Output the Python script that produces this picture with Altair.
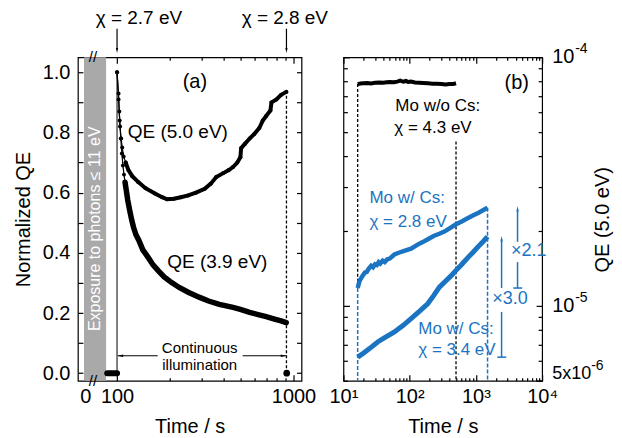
import altair as alt
import pandas as pd

FONT = "Liberation Sans"
BLUE = "#1b74c2"
GRAY = "#a9a9a9"

# ---------------- panel (a) data ----------------
t50 = [100, 102, 103, 104, 105.5, 107, 109, 112, 116, 122, 132, 145, 164, 180, 192, 210, 230, 253, 280, 314,
       340, 365, 400, 430, 454, 480, 500, 505, 530, 564, 600, 640, 670, 700, 740, 750, 800, 850, 910]
qe50 = [1.0, 0.93, 0.87, 0.82, 0.78, 0.75, 0.72, 0.70, 0.675, 0.655, 0.635, 0.615, 0.597, 0.585, 0.578, 0.58, 0.585, 0.591, 0.60, 0.613,
        0.63, 0.652, 0.665, 0.675, 0.685, 0.70, 0.718, 0.748, 0.762, 0.78, 0.795, 0.815, 0.84, 0.855, 0.873, 0.90, 0.91, 0.925, 0.935]
t39 = [100, 102, 103.5, 105, 106.5, 108, 109.5, 111, 113, 115, 118, 121, 124, 128, 133, 140, 150, 160, 171, 185,
       203, 225, 253, 294, 330, 380, 454, 500, 564, 630, 700, 780, 850, 910]
qe39 = [1.0, 0.91, 0.84, 0.78, 0.73, 0.69, 0.66, 0.635, 0.605, 0.575, 0.541, 0.51, 0.485, 0.46, 0.441, 0.41, 0.385, 0.36, 0.341, 0.32,
        0.302, 0.285, 0.269, 0.252, 0.24, 0.229, 0.219, 0.212, 0.202, 0.195, 0.188, 0.18, 0.174, 0.168]
t_dark = [88, 90, 92, 94, 96, 98, 100]
qe_dark = [0.0, 0.0, 0.0, 0.0, 0.0, 0.0, 0.0]
t_after = [915]
qe_after = [0.0]

a_xmajor = [66, 100, 1000]
a_xminor = [200, 300, 400, 500, 600, 700, 800, 900]
a_yticks = [0.0, 0.1, 0.2, 0.3, 0.4, 0.5, 0.6, 0.7, 0.8, 0.9, 1.0]

# ---------------- panel (b) data ----------------
tb_nocs = [16.4, 18, 20, 23, 26, 30, 35, 40, 45, 50, 58, 65, 72, 80, 88, 95, 105, 120, 140, 160, 190, 220, 260, 300, 350, 400, 450, 501]
qe_nocs = [7.80e-5, 7.84e-5, 7.86e-5, 7.88e-5, 7.85e-5, 7.90e-5, 7.92e-5, 7.90e-5, 7.94e-5, 7.96e-5, 7.93e-5, 7.98e-5, 8.05e-5, 7.97e-5,
           8.03e-5, 7.95e-5, 7.98e-5, 7.92e-5, 7.90e-5, 7.88e-5, 7.86e-5, 7.83e-5, 7.82e-5, 7.80e-5, 7.78e-5, 7.80e-5, 7.80e-5, 7.86e-5]
tb_28 = [16.4, 17.5, 19.4, 21, 22.5, 24, 26.2, 28, 30, 32, 34, 36, 39, 42, 46, 50, 58.8, 70, 85, 105, 130, 160, 185, 230, 280, 334,
         400, 501, 600, 750, 900, 1100, 1300, 1500]
qe_28 = [1.18e-5, 1.26e-5, 1.32e-5, 1.36e-5, 1.37e-5, 1.41e-5, 1.45e-5, 1.43e-5, 1.47e-5, 1.46e-5, 1.50e-5, 1.48e-5, 1.52e-5, 1.50e-5,
         1.54e-5, 1.55e-5, 1.61e-5, 1.64e-5, 1.67e-5, 1.70e-5, 1.76e-5, 1.81e-5, 1.85e-5, 1.91e-5, 1.95e-5, 1.99e-5,
         2.05e-5, 2.13e-5, 2.18e-5, 2.25e-5, 2.31e-5, 2.37e-5, 2.43e-5, 2.48e-5]
tb_34 = [16.4, 20, 25, 32.9, 42, 58.8, 80, 105, 140, 187, 230, 281, 350, 420, 501, 600, 750, 900, 1100, 1300, 1500]
qe_34 = [6.22e-6, 6.45e-6, 6.75e-6, 7.16e-6, 7.45e-6, 7.86e-6, 8.35e-6, 8.89e-6, 9.5e-6, 1.02e-5, 1.10e-5, 1.19e-5, 1.26e-5, 1.32e-5,
         1.39e-5, 1.46e-5, 1.56e-5, 1.64e-5, 1.74e-5, 1.82e-5, 1.90e-5]

b_xmajor = [10, 100, 1000, 10000]
b_xminor = [20, 30, 40, 50, 60, 70, 80, 90, 200, 300, 400, 500, 600, 700, 800, 900, 2000, 3000, 4000, 5000, 6000, 7000, 8000, 9000]
b_ymajor = [1e-5, 1e-4]
b_yminor = [5e-6, 6e-6, 7e-6, 8e-6, 9e-6, 2e-5, 3e-5, 4e-5, 5e-5, 6e-5, 7e-5, 8e-5, 9e-5]
# right-hand tick labels of panel (b): base text, superscript, and where they sit
b_ylab_base = ["10", "10", "5x10"]
b_ylab_sup = ["-4", "-5", "-6"]
b_ylab_qe = [1e-4, 1e-5, 5.3e-6]
b_ylab_tbase = [14190, 14190, 14190]
b_ylab_tsup = [31550, 31550, 55080]
b_ylab_fs = [20, 20, 18]

# ---------------- scales ----------------
xs_a = alt.Scale(type="log", domain=[60, 1110], nice=False)
ys_a = alt.Scale(domain=[-0.025, 1.05], nice=False, zero=False)
xs_b = alt.Scale(type="log", domain=[10, 10000], nice=False)
ys_b = alt.Scale(type="log", domain=[5e-6, 1e-4], nice=False)

ARROW_DOWN = "M0,0L-0.35,-1.6L0.35,-1.6Z"
ARROW_UP = "M0,0L-0.35,1.6L0.35,1.6Z"
ARROW_LEFT = "M0,0L1.6,-0.35L1.6,0.35Z"
ARROW_RIGHT = "M0,0L-1.6,-0.35L-1.6,0.35Z"


def X(f, s):
    return alt.X(f, type="quantitative", scale=s, axis=None)


def Y(f, s):
    return alt.Y(f, type="quantitative", scale=s, axis=None)


def carrier(xs, ys, xv, yv, xaxis, yaxis):
    df = pd.DataFrame({"cx": [xv], "cy": [yv]})
    return alt.Chart(df).mark_point(opacity=0).encode(
        x=alt.X("cx", type="quantitative", scale=xs, axis=xaxis),
        y=alt.Y("cy", type="quantitative", scale=ys, axis=yaxis),
    )


def tick_axis(orient, values, size, **kw):
    return alt.Axis(orient=orient, values=values, tickSize=size, offset=-size, domain=False, grid=False,
                    labels=False, title=None, **kw)


# ================= panel (a) =================
band = alt.Chart(pd.DataFrame({"t0": [65], "t1": [86.7], "y0": [-0.025], "y1": [1.05]})).mark_rect(color=GRAY).encode(
    x=X("t0", xs_a), x2="t1", y=Y("y0", ys_a), y2="y1")
band_txt = alt.Chart(pd.DataFrame({"t": [75.5], "qe": [0.48], "label": ["Exposure to photons ≤ 11 eV"]})).mark_text(
    font=FONT, fontSize=16, angle=270, color="white").encode(x=X("t", xs_a), y=Y("qe", ys_a), text="label:N")

rule_solid = alt.Chart(pd.DataFrame({"t": [100], "y0": [0.0], "y1": [1.0]})).mark_rule(color="black", strokeWidth=1).encode(
    x=X("t", xs_a), y=Y("y0", ys_a), y2="y1")
rule_dot = alt.Chart(pd.DataFrame({"t": [912], "y0": [0.0], "y1": [0.935]})).mark_rule(
    color="black", strokeWidth=1.3, strokeDash=[3, 2]).encode(x=X("t", xs_a), y=Y("y0", ys_a), y2="y1")

df50 = pd.DataFrame({"t": t50, "qe": qe50})
df39 = pd.DataFrame({"t": t39, "qe": qe39})
dfdark = pd.DataFrame({"t": t_dark, "qe": qe_dark})
dfafter = pd.DataFrame({"t": t_after, "qe": qe_after})


def curve(df, w_thin, w_thick, t_split, dot):
    thin = alt.Chart(df).mark_line(color="black", strokeWidth=w_thin).encode(x=X("t", xs_a), y=Y("qe", ys_a))
    thick = alt.Chart(df[df["t"] >= t_split]).mark_line(color="black", strokeWidth=w_thick, strokeCap="round").encode(
        x=X("t", xs_a), y=Y("qe", ys_a))
    pts = alt.Chart(df).mark_circle(color="black", size=dot, opacity=1).encode(x=X("t", xs_a), y=Y("qe", ys_a))
    return [thin, thick, pts]


dark_line = alt.Chart(dfdark).mark_line(color="black", strokeWidth=6, strokeCap="round").encode(
    x=X("t", xs_a), y=Y("qe", ys_a))
after_pt = alt.Chart(dfafter).mark_circle(color="black", size=45, opacity=1).encode(x=X("t", xs_a), y=Y("qe", ys_a))

# continuous illumination double arrow
ill = pd.DataFrame({"ta": [101, 515], "tb": [170, 908], "qe": [0.058, 0.058]})
ill_rules = alt.Chart(ill).mark_rule(color="black", strokeWidth=1).encode(x=X("ta", xs_a), x2="tb", y=Y("qe", ys_a))
ill_head_l = alt.Chart(pd.DataFrame({"t": [101], "qe": [0.058]})).mark_point(
    shape=ARROW_LEFT, filled=True, size=45, color="black", opacity=1, strokeWidth=0).encode(x=X("t", xs_a), y=Y("qe", ys_a))
ill_head_r = alt.Chart(pd.DataFrame({"t": [908], "qe": [0.058]})).mark_point(
    shape=ARROW_RIGHT, filled=True, size=45, color="black", opacity=1, strokeWidth=0).encode(x=X("t", xs_a), y=Y("qe", ys_a))
ill_txt = alt.Chart(pd.DataFrame({"t": [294, 294], "qe": [0.085, 0.028], "label": ["Continuous", "illumination"]})).mark_text(
    font=FONT, fontSize=15, color="black").encode(x=X("t", xs_a), y=Y("qe", ys_a), text="label:N")

# top arrows
top = pd.DataFrame({"t": [100, 912], "y0": [1.145, 1.145], "y1": [1.075, 1.075], "tip": [1.064, 1.064]})
top_rules = alt.Chart(top).mark_rule(color="black", strokeWidth=1.2).encode(x=X("t", xs_a), y=Y("y0", ys_a), y2="y1")
top_heads = alt.Chart(top).mark_point(shape=ARROW_DOWN, filled=True, size=40, color="black", opacity=1, strokeWidth=0).encode(
    x=X("t", xs_a), y=Y("tip", ys_a))

a_txt = pd.DataFrame({
    "t": [276, 221, 370, 133, 893],
    "qe": [0.968, 0.80, 0.368, 1.18, 1.18],
    "label": ["(a)", "QE (5.0 eV)", "QE (3.9 eV)", "χ = 2.7 eV", "χ = 2.8 eV"],
    "fs": [20, 19, 19, 19, 19],
})
a_texts = alt.Chart(a_txt).mark_text(font=FONT, color="black").encode(
    x=X("t", xs_a), y=Y("qe", ys_a), text="label:N", size=alt.Size("fs:Q", scale=None))

brk = alt.Chart(pd.DataFrame({"t": [73, 73], "qe": [1.05, -0.025], "label": ["//", "//"]})).mark_text(
    font=FONT, fontSize=15, color="black").encode(x=X("t", xs_a), y=Y("qe", ys_a), text="label:N")

a_axes = [
    carrier(xs_a, ys_a, 200, 0.5,
            alt.Axis(orient="bottom", values=a_xmajor, tickSize=6, offset=-6, domain=False, grid=False,
                     labelExpr="datum.value < 80 ? '0' : format(datum.value, 'd')", labelPadding=6,
                     labelOverlap=False, labelFlush=False, title="Time / s", titlePadding=10),
            alt.Axis(orient="left", values=a_yticks, tickSize=5, offset=-5, domain=False, grid=False,
                     labelExpr="round(datum.value * 10) % 2 == 0 ? format(datum.value, '.1f') : ''",
                     labelPadding=8, labelOverlap=False, labelFlush=False, title="Normalized QE", titlePadding=9)),
    carrier(xs_a, ys_a, 200, 0.5, tick_axis("bottom", a_xminor, 3),
            tick_axis("right", a_yticks, 5)),
    carrier(xs_a, ys_a, 200, 0.5, tick_axis("top", a_xmajor, 6), None),
    carrier(xs_a, ys_a, 200, 0.5, tick_axis("top", a_xminor, 3), None),
]

panel_a = alt.layer(
    band, band_txt, rule_solid, rule_dot, dark_line, after_pt,
    *curve(df50, 1.2, 4, 112, 16), *curve(df39, 1.2, 5.5, 111, 16),
    ill_rules, ill_head_l, ill_head_r, ill_txt, top_rules, top_heads, a_texts, brk, *a_axes,
).resolve_axis(x="independent", y="independent").properties(width=224, height=324)

# ================= panel (b) =================
dfn = pd.DataFrame({"t": tb_nocs, "qe": qe_nocs})
df28 = pd.DataFrame({"t": tb_28, "qe": qe_28})
df34 = pd.DataFrame({"t": tb_34, "qe": qe_34})

line_n = alt.Chart(dfn).mark_line(color="black", strokeWidth=4).encode(x=X("t", xs_b), y=Y("qe", ys_b))
line_28 = alt.Chart(df28).mark_line(color=BLUE, strokeWidth=4.5).encode(x=X("t", xs_b), y=Y("qe", ys_b))
line_34 = alt.Chart(df34).mark_line(color=BLUE, strokeWidth=5).encode(x=X("t", xs_b), y=Y("qe", ys_b))

vb_black = pd.DataFrame({"t": [16.4, 501], "y0": [7.8e-5, 4.58e-5], "y1": [1.18e-5, 5e-6]})
vb_blue = pd.DataFrame({"t": [16.4, 1500], "y0": [1.18e-5, 2.48e-5], "y1": [5e-6, 5e-6]})
rules_bk = alt.Chart(vb_black).mark_rule(color="black", strokeWidth=1.3, strokeDash=[3, 2]).encode(
    x=X("t", xs_b), y=Y("y0", ys_b), y2="y1")
rules_bl = alt.Chart(vb_blue).mark_rule(color=BLUE, strokeWidth=1.5, strokeDash=[4, 2]).encode(
    x=X("t", xs_b), y=Y("y0", ys_b), y2="y1")

# factor arrows
arr_seg = pd.DataFrame({"t": [4256, 4256, 2443, 2443],
                        "y0": [1.18e-5, 1.81e-5, 1.18e-5, 6.22e-6],
                        "y1": [1.50e-5, 2.45e-5, 1.86e-5, 9.46e-6]})
arr_rules = alt.Chart(arr_seg).mark_rule(color=BLUE, strokeWidth=1.5).encode(x=X("t", xs_b), y=Y("y0", ys_b), y2="y1")
arr_heads = alt.Chart(pd.DataFrame({"t": [4256, 2443], "qe": [2.52e-5, 1.91e-5]})).mark_point(
    shape=ARROW_UP, filled=True, size=45, color=BLUE, opacity=1, strokeWidth=0).encode(x=X("t", xs_b), y=Y("qe", ys_b))
caps = pd.DataFrame({"ta": [3664, 2104], "tb": [5012, 2871], "qe": [1.18e-5, 6.22e-6]})
cap_rules = alt.Chart(caps).mark_rule(color=BLUE, strokeWidth=1.5).encode(x=X("ta", xs_b), x2="tb", y=Y("qe", ys_b))

b_txt = pd.DataFrame({
    "t": [3380, 1766, 60.8, 58.7, 24.7, 24.7, 135, 135],
    "qe": [1.667e-5, 1.07e-5, 6.34e-5, 5.19e-5, 2.71e-5, 2.18e-5, 8.11e-6, 6.62e-6],
    "label": ["×2.1", "×3.0", "Mo w/o Cs:", "χ = 4.3 eV", "Mo w/ Cs:", "χ = 2.8 eV", "Mo w/ Cs:", "χ = 3.4 eV"],
    "col": [BLUE, BLUE, "black", "black", BLUE, BLUE, BLUE, BLUE],
    "fs": [18, 18, 17, 17, 17, 17, 17, 17],
})
b_texts = alt.Chart(b_txt).mark_text(font=FONT, align="left").encode(
    x=X("t", xs_b), y=Y("qe", ys_b), text="label:N", color=alt.Color("col:N", scale=None),
    size=alt.Size("fs:Q", scale=None))
b_lbl = alt.Chart(pd.DataFrame({"t": [4140], "qe": [7.87e-5], "label": ["(b)"]})).mark_text(
    font=FONT, fontSize=20, color="black").encode(x=X("t", xs_b), y=Y("qe", ys_b), text="label:N")
b_title = alt.Chart(pd.DataFrame({"t": [83600], "qe": [2.22e-5], "label": ["QE (5.0 eV)"]})).mark_text(
    font=FONT, fontSize=20, color="black", angle=270).encode(x=X("t", xs_b), y=Y("qe", ys_b), text="label:N")

ylab = pd.DataFrame({"tb": b_ylab_tbase, "ts": b_ylab_tsup, "qe": b_ylab_qe, "base": b_ylab_base,
                     "sup": b_ylab_sup, "fs": b_ylab_fs})
ylab_base = alt.Chart(ylab).mark_text(font=FONT, align="left", color="black").encode(
    x=X("tb", xs_b), y=Y("qe", ys_b), text="base:N", size=alt.Size("fs:Q", scale=None))
ylab_sup = alt.Chart(ylab).mark_text(font=FONT, align="left", color="black", fontSize=14, dy=-8).encode(
    x=X("ts", xs_b), y=Y("qe", ys_b), text="sup:N")

b_axes = [
    carrier(xs_b, ys_b, 100, 2e-5,
            alt.Axis(orient="bottom", values=b_xmajor, tickSize=6, offset=-6, domain=False, grid=False,
                     labelExpr="datum.value == 10 ? '10¹' : datum.value == 100 ? '10²' : datum.value == 1000 ? '10³' : '10⁴'",
                     labelPadding=6, labelOverlap=False, labelFlush=False, title="Time / s", titlePadding=10),
            tick_axis("right", b_ymajor + [5e-6], 6)),
    carrier(xs_b, ys_b, 100, 2e-5, tick_axis("bottom", b_xminor, 3), tick_axis("left", b_ymajor, 6)),
    carrier(xs_b, ys_b, 100, 2e-5, tick_axis("top", b_xmajor, 6), tick_axis("left", b_yminor, 4)),
    carrier(xs_b, ys_b, 100, 2e-5, tick_axis("top", b_xminor, 3), tick_axis("right", b_yminor, 4)),
]

panel_b = alt.layer(
    rules_bk, rules_bl, line_n, line_28, line_34, arr_rules, arr_heads, cap_rules, b_texts, b_lbl, b_title,
    ylab_base, ylab_sup, *b_axes,
).resolve_axis(x="independent", y="independent").properties(width=199, height=324)

chart = alt.hconcat(panel_a, panel_b, spacing=42, bounds="flush").resolve_scale(
    x="independent", y="independent"
).properties(
    padding={"left": 4, "top": 0, "right": 0, "bottom": 0}
).configure_view(stroke="black", strokeWidth=1.2).configure_axis(
    labelFont=FONT, titleFont=FONT, labelFontSize=20, titleFontSize=20, labelColor="black", titleColor="black",
    tickColor="black", tickWidth=1.2, titleFontWeight="normal",
)

chart.save("out.html", embed_options={"renderer": "svg", "actions": False})
